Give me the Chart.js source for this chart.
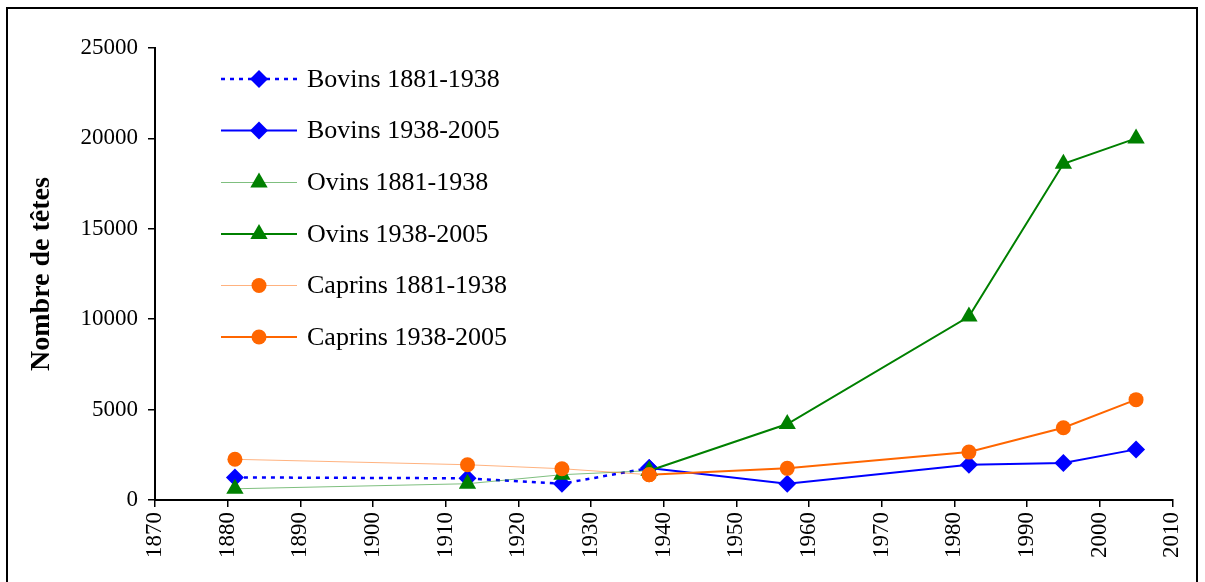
<!DOCTYPE html>
<html>
<head>
<meta charset="utf-8">
<script src="https://cdn.jsdelivr.net/npm/chart.js@4/dist/chart.umd.min.js"></script>
<style>
  html, body { margin: 0; padding: 0; background: #fff; }
  #wrap { width: 1205px; height: 582px; }
</style>
</head>
<body>
<div id="wrap"><canvas id="c" width="1205" height="582"></canvas></div>
<script>
// ---- Data ----
const years1 = [1881, 1913, 1926, 1938];
const years2 = [1938, 1957, 1982, 1995, 2005];
const bovins1 = [1250, 1200, 900, 1770];
const bovins2 = [1770, 900, 1950, 2050, 2800];
const ovins1 = [620, 900, 1400, 1620];
const ovins2 = [1620, 4200, 10150, 18600, 20000];
const caprins1 = [2250, 1950, 1730, 1400];
const caprins2 = [1400, 1750, 2650, 4000, 5550];
const seriesLabels = ["Bovins 1881-1938", "Bovins 1938-2005", "Ovins 1881-1938", "Ovins 1938-2005", "Caprins 1881-1938", "Caprins 1938-2005"];
const yTitle = "Nombre de têtes";

const BLUE = "#0000FF", GREEN = "#008000", ORANGE = "#FF6600";
const SERIF = "'Liberation Serif', 'DejaVu Serif', serif";

function pts(xs, ys) { return xs.map((x, i) => ({ x: x, y: ys[i] })); }

const styles = [
  { color: BLUE, line: BLUE, width: 2.5, dash: [4, 5], pointStyle: 'rectRot', radius: 9 },
  { color: BLUE, line: BLUE, width: 2, dash: [], pointStyle: 'rectRot', radius: 9 },
  { color: GREEN, line: "rgba(0,128,0,0.5)", width: 1, dash: [], pointStyle: 'triangle', radius: 10 },
  { color: GREEN, line: GREEN, width: 2, dash: [], pointStyle: 'triangle', radius: 10 },
  { color: ORANGE, line: "rgba(255,102,0,0.5)", width: 1, dash: [], pointStyle: 'circle', radius: 7.5 },
  { color: ORANGE, line: ORANGE, width: 2, dash: [], pointStyle: 'circle', radius: 7.5 }
];
const seriesData = [pts(years1, bovins1), pts(years2, bovins2), pts(years1, ovins1), pts(years2, ovins2), pts(years1, caprins1), pts(years2, caprins2)];

const datasets = seriesData.map((d, i) => ({
  label: seriesLabels[i],
  data: d,
  borderColor: styles[i].line,
  borderWidth: styles[i].width,
  borderDash: styles[i].dash,
  backgroundColor: styles[i].color,
  pointBackgroundColor: styles[i].color,
  pointBorderColor: styles[i].color,
  pointBorderWidth: 0,
  pointStyle: styles[i].pointStyle,
  pointRadius: styles[i].radius,
  pointHoverRadius: styles[i].radius,
  tension: 0,
  fill: false,
  order: 6 - i
}));

const framePlugin = {
  id: 'frame',
  beforeDraw(chart) {
    const ctx = chart.ctx;
    ctx.save();
    ctx.fillStyle = '#fff';
    ctx.fillRect(0, 0, chart.width, chart.height);
    ctx.strokeStyle = '#000';
    ctx.lineWidth = 2;
    ctx.strokeRect(7, 8, 1190, 620);
    ctx.restore();
  }
};

const legendPlugin = {
  id: 'customLegend',
  afterDraw(chart) {
    const ctx = chart.ctx;
    const rows = [79, 130.5, 182.5, 234, 285.5, 337];
    ctx.save();
    rows.forEach((y, i) => {
      const s = styles[i];
      ctx.beginPath();
      ctx.strokeStyle = s.line;
      ctx.lineWidth = s.width;
      ctx.setLineDash(s.dash);
      ctx.moveTo(221, y);
      ctx.lineTo(297, y);
      ctx.stroke();
      ctx.setLineDash([]);
      ctx.fillStyle = s.color;
      ctx.strokeStyle = s.color;
      Chart.helpers.drawPoint(ctx, { pointStyle: s.pointStyle, radius: s.radius, rotation: 0, borderWidth: 0 }, 259, y);
      ctx.fillStyle = '#000';
      ctx.font = "26px " + SERIF;
      ctx.textBaseline = 'middle';
      ctx.textAlign = 'left';
      ctx.fillText(seriesLabels[i], 307, y + 1);
    });
    ctx.restore();
  }
};

new Chart(document.getElementById('c'), {
  type: 'line',
  data: { datasets: datasets },
  options: {
    responsive: false,
    animation: false,
    events: [],
    layout: { padding: { top: 48, right: 30, left: 0, bottom: 0 } },
    plugins: { legend: { display: false }, tooltip: { enabled: false } },
    scales: {
      x: {
        type: 'linear',
        min: 1870, max: 2010,
        afterFit(scale) { scale.height = 82; },
        ticks: {
          stepSize: 10,
          autoSkip: false,
          minRotation: 90, maxRotation: 90,
          padding: 5,
          color: '#000',
          font: { family: SERIF, size: 23 },
          callback: (v) => String(v)
        },
        grid: { drawOnChartArea: false, drawTicks: true, tickLength: 7, color: '#000', lineWidth: 1.5 },
        border: { color: '#000', width: 2 }
      },
      y: {
        min: 0, max: 25000,
        afterFit(scale) { scale.width = 155; },
        ticks: {
          stepSize: 5000,
          padding: 10,
          color: '#000',
          font: { family: SERIF, size: 23 },
          callback: (v) => String(v)
        },
        grid: { drawOnChartArea: false, drawTicks: true, tickLength: 7, color: '#000', lineWidth: 1.5 },
        border: { color: '#000', width: 2 },
        title: {
          display: true,
          text: yTitle,
          color: '#000',
          font: { family: SERIF, size: 28, weight: 'bold' },
          padding: { top: 25, bottom: 0 }
        }
      }
    }
  },
  plugins: [framePlugin, legendPlugin]
});
</script>
</body>
</html>
